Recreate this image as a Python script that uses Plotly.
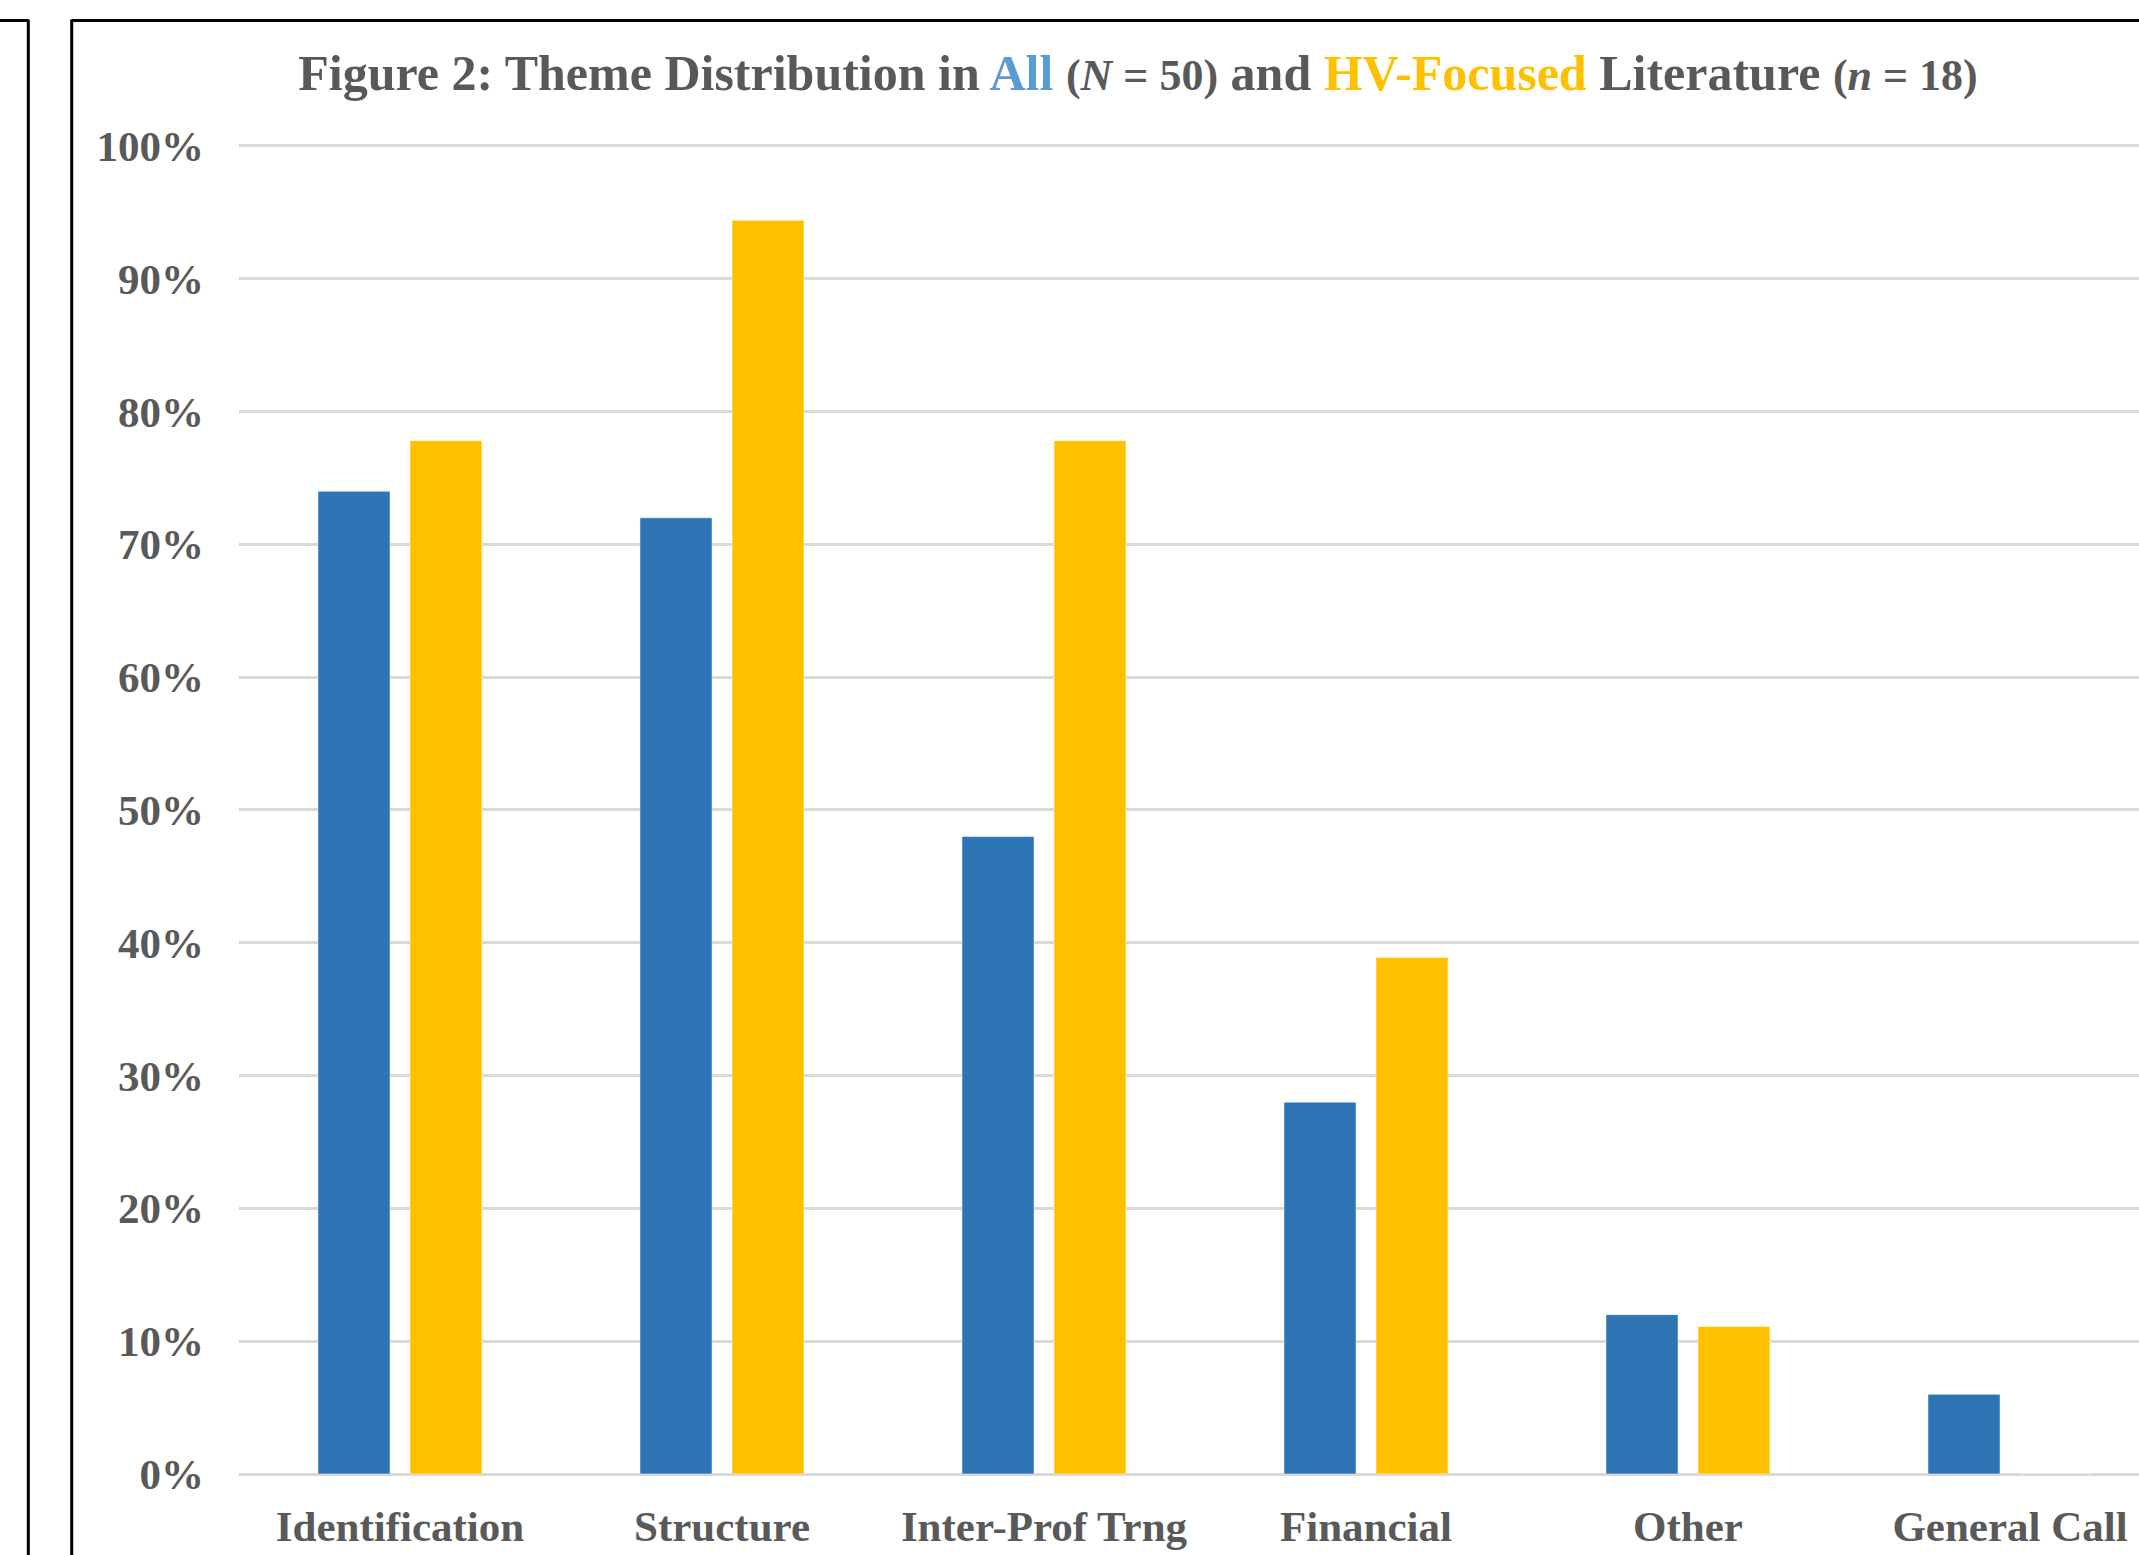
import plotly.graph_objects as go

categories = ["Identification", "Structure", "Inter-Prof Trng", "Financial", "Other", "General Call"]
all_values = [0.74, 0.72, 0.48, 0.28, 0.12, 0.06]          # N = 50
hv_values = [0.778, 0.944, 0.778, 0.389, 0.111, 0.0]       # n = 18
y_ticks = [0, 0.1, 0.2, 0.3, 0.4, 0.5, 0.6, 0.7, 0.8, 0.9, 1.0]
y_tick_labels = ["0%", "10%", "20%", "30%", "40%", "50%", "60%", "70%", "80%", "90%", "100%"]

W, H = 2139, 1555
L, R = 239, 0
PLOT_BOTTOM = 1474.5
PLOT_TOP_100 = 145.5
px_per_unit = PLOT_BOTTOM - PLOT_TOP_100
Y_MAX = 1.006
T = PLOT_BOTTOM - px_per_unit * Y_MAX
B = H - PLOT_BOTTOM
cat_px = 322.0
x_max = -0.5 + (W - L - R) / cat_px

FONT = "Liberation Serif"
GRAY = "#595959"

fig = go.Figure()
fig.add_trace(go.Bar(x=categories, y=all_values, name="All", marker_color="#2E75B6",
                     marker_line=dict(color="rgba(255,255,255,0.5)", width=1)))
fig.add_trace(go.Bar(x=categories, y=hv_values, name="HV-Focused", marker_color="#FFC000",
                     marker_line=dict(color="rgba(255,255,255,0.5)", width=1)))

title_html = (
    "Figure 2: Theme Distribution in "
    "<span style='color:#5B9BD5'>All</span> "
    "<span style='font-size:44px'>(<i>N</i> = 50)</span> and "
    "<span style='color:#FFC000'>HV-Focused</span> Literature "
    "<span style='font-size:44px'>(<i>n</i> = 18)</span>"
)

def px_to_paper_x(px):
    return (px - L) / (W - L - R)

def px_to_paper_y(py):
    return (H - B - py) / (H - B - T)

line_style = dict(color="black", width=3)
shapes = [
    dict(type="line", xref="paper", yref="paper", x0=px_to_paper_x(28.3), x1=px_to_paper_x(28.3),
         y0=px_to_paper_y(19), y1=px_to_paper_y(H + 5), line=line_style),
    dict(type="line", xref="paper", yref="paper", x0=px_to_paper_x(-5), x1=px_to_paper_x(28.3),
         y0=px_to_paper_y(20), y1=px_to_paper_y(20), line=line_style),
    dict(type="line", xref="paper", yref="paper", x0=px_to_paper_x(71.7), x1=px_to_paper_x(71.7),
         y0=px_to_paper_y(19), y1=px_to_paper_y(H + 5), line=line_style),
    dict(type="line", xref="paper", yref="paper", x0=px_to_paper_x(71.7), x1=px_to_paper_x(W + 5),
         y0=px_to_paper_y(20), y1=px_to_paper_y(20), line=line_style),
]

fig.update_layout(
    width=W, height=H,
    margin=dict(l=L, r=R, t=T, b=B, pad=0),
    paper_bgcolor="white", plot_bgcolor="white",
    barmode="group", bargap=0.4286, bargroupgap=0.217,
    showlegend=False,
    title=dict(text=title_html, x=1138 / W, xanchor="center", y=1 - 72.5 / H, yanchor="middle",
               yref="container", xref="container",
               font=dict(family=FONT, size=50, color=GRAY, weight="bold")),
    shapes=shapes,
)
fig.update_xaxes(range=[-0.5, x_max], showgrid=False, showline=False, ticks="",
                 tickfont=dict(family=FONT, size=43, color=GRAY, weight="bold"),
                 ticklabelstandoff=23)
fig.update_yaxes(range=[0, Y_MAX], tickvals=y_ticks, ticktext=y_tick_labels,
                 showgrid=True, gridcolor="#D9D9D9", gridwidth=2.5,
                 zeroline=True, zerolinecolor="#D9D9D9", zerolinewidth=2.5,
                 showline=False, ticks="",
                 tickfont=dict(family=FONT, size=43, color=GRAY, weight="bold"),
                 ticklabelstandoff=34)

fig.write_html("out.html")
